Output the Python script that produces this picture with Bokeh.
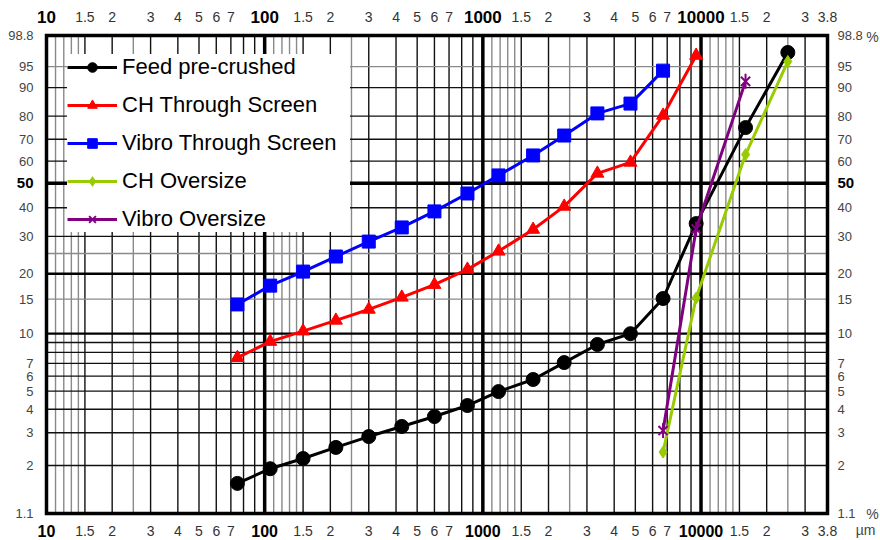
import numpy as np
from bokeh.plotting import figure
from bokeh.models import (Range1d, FixedTicker, LinearAxis, LogAxis, Legend, LegendItem,
                          CustomJSTickFormatter)
from bokeh.core.properties import value
from bokeh.embed import file_html
from bokeh.resources import INLINE

# ---------------- data (sieve size in µm, cumulative passing in %) ----------------
sizes_feed = [75, 106, 150, 212, 300, 425, 600, 850, 1180, 1700, 2360, 3350, 4750, 6700, 9500, 16000, 25000]
feed_pre_crushed = [1.60, 1.92, 2.18, 2.50, 2.86, 3.24, 3.66, 4.19, 4.97, 5.76, 7.07, 8.79, 10.0, 15.1, 34.2, 75.2, 97.2]

sizes_ch_through = [75, 106, 150, 212, 300, 425, 600, 850, 1180, 1700, 2360, 3350, 4750, 6700, 9500]
ch_through_screen = [7.5, 9.1, 10.3, 11.7, 13.3, 15.3, 17.7, 21.0, 25.6, 32.2, 40.5, 54.4, 59.4, 80.3, 96.8]

sizes_vibro_through = [75, 106, 150, 212, 300, 425, 600, 850, 1180, 1700, 2360, 3350, 4750, 6700]
vibro_through_screen = [14.1, 17.5, 20.5, 24.2, 28.4, 32.9, 38.6, 45.7, 53.5, 62.6, 71.7, 81.1, 84.8, 94.2]

sizes_ch_over = [6700, 9500, 16000, 25000]
ch_oversize = [2.36, 15.2, 63.0, 95.9]

sizes_vibro_over = [6700, 9500, 16000]
vibro_oversize = [3.08, 32.4, 91.7]

# axis ticks / labels
y_ticks = [1.1, 2, 3, 4, 5, 6, 7, 10, 15, 20, 30, 40, 60, 70, 80, 90, 95, 98.8]
y_bold_tick = 50
x_decades = [10, 100, 1000, 10000]
x_minor_mult = [1.5, 2, 3, 4, 5, 6, 7]
x_last_mult = [1.5, 2, 3, 3.8]
x_min, x_max = 10, 38000
y_min_pct, y_max_pct = 1.1, 98.8

# grid definition
grid_mult_dark = [1.5, 2, 3, 4, 5, 6, 7, 8, 9]
grid_mult_light = [1.1, 1.2, 1.3, 1.4, 2.5]
grid_y_dark = [2, 3, 4, 5, 6, 7, 8, 9, 30, 40, 60, 70, 80, 90]
grid_y_light = [15, 25, 95]
grid_y_medium = [10, 20]


def rr(pct):
    """RRSB (Rosin-Rammler) ordinate: log10(-ln(1-F))."""
    return np.log10(-np.log(1.0 - np.asarray(pct, dtype=float) / 100.0))


# canvas and chart-box geometry (pixels)
W, H = 880, 540
BL, BR, BT, BB = 46, 53, 35, 27
FW, FH = W - BL - BR, H - BT - BB

ybot, ytop = float(rr(y_min_pct)), float(rr(y_max_pct))
ppu_y = FH / (ytop - ybot)
ppu_x = FW / (np.log10(x_max) - np.log10(x_min))


def x_at_px(px):
    return float(10 ** (np.log10(x_min) + (px - BL) / ppu_x))


def y_at_px(py):
    return float(ytop - (py - BT) / ppu_y)


p = figure(width=W, height=H, x_axis_type="log", title=None,
           x_range=Range1d(x_at_px(0), x_at_px(W)), y_range=Range1d(y_at_px(H), y_at_px(0)),
           x_axis_location=None, y_axis_location=None,
           output_backend="svg", toolbar_location=None, min_border=0)
p.background_fill_color = "white"
p.border_fill_color = "white"
p.outline_line_color = None
for g in p.grid:
    g.visible = False

FONT = "Liberation Sans"

# ---------------- grid lines ----------------
last_dec = x_decades[-1]
vx_dark, vx_light = [], []
for d in x_decades:
    for m in grid_mult_dark:
        v = d * m
        if v < x_max:
            vx_dark.append(v)
    for m in grid_mult_light:
        v = d * m
        if v < x_max:
            vx_light.append(v)


def vlines(xs, color, width):
    n = len(xs)
    p.segment(x0=xs, y0=[ybot] * n, x1=xs, y1=[ytop] * n, line_color=color, line_width=width)


def hlines(pcts, color, width):
    ys = list(rr(pcts))
    n = len(ys)
    p.segment(x0=[x_min] * n, y0=ys, x1=[x_max] * n, y1=ys, line_color=color, line_width=width)


vlines(vx_light, "#8a8a8a", 1.4)
vlines(vx_dark, "#111111", 1.4)
hlines(grid_y_light, "#8a8a8a", 1.4)
hlines(grid_y_dark, "#111111", 1.4)
hlines(grid_y_medium, "#000000", 2.4)
hlines([y_bold_tick], "#000000", 3.5)
vlines(x_decades[1:], "#000000", 3.5)
p.quad(left=[x_min], right=[x_max], bottom=[ybot], top=[ytop], fill_color=None,
       line_color="black", line_width=3.5, line_join="miter")

# ---------------- series ----------------
LW = 3
l1 = p.line(sizes_feed, rr(feed_pre_crushed), line_color="black", line_width=LW)
s1 = p.scatter(sizes_feed, rr(feed_pre_crushed), marker="circle", size=14, color="black")

l2 = p.line(sizes_ch_through, rr(ch_through_screen), line_color="#FF0000", line_width=LW)
s2 = p.scatter(sizes_ch_through, rr(ch_through_screen), marker="triangle", size=13, color="#FF0000")

l3 = p.line(sizes_vibro_through, rr(vibro_through_screen), line_color="#0000FF", line_width=LW)
s3 = p.scatter(sizes_vibro_through, rr(vibro_through_screen), marker="square", size=13, color="#0000FF")

l4 = p.line(sizes_ch_over, rr(ch_oversize), line_color="#99CC00", line_width=LW)
s4 = p.scatter(sizes_ch_over, rr(ch_oversize), marker="diamond", size=12, color="#99CC00")

l5 = p.line(sizes_vibro_over, rr(vibro_oversize), line_color="#800080", line_width=LW)
s5a = p.scatter(sizes_vibro_over, rr(vibro_oversize), marker="x", size=13, line_color="#800080", line_width=2)
s5b = p.scatter(sizes_vibro_over, rr(vibro_oversize), marker="dash", angle=np.pi / 2, size=15,
                line_color="#800080", line_width=2)

legend = Legend(items=[
    LegendItem(label="Feed pre-crushed", renderers=[l1, s1]),
    LegendItem(label="CH Through Screen", renderers=[l2, s2]),
    LegendItem(label="Vibro Through Screen", renderers=[l3, s3]),
    LegendItem(label="CH Oversize", renderers=[l4, s4]),
    LegendItem(label="Vibro Oversize", renderers=[l5, s5a, s5b]),
], location=(67, 308))
legend.label_text_font = FONT
legend.label_text_font_size = "22px"
legend.label_text_color = "black"
legend.glyph_width = 50
legend.glyph_height = 24
legend.label_height = 24
legend.label_width = 228
legend.spacing = 12
legend.padding = 12
legend.margin = 0
legend.label_standoff = 5
legend.border_line_color = None
legend.background_fill_color = "white"
legend.background_fill_alpha = 1.0
p.add_layout(legend)

# ---------------- axes (fixed on the chart box edges) ----------------
dec_fmt = CustomJSTickFormatter(code="return Math.round(tick).toString();")
mant_fmt = CustomJSTickFormatter(code="""
const e = Math.floor(Math.log10(tick) + 1e-9);
const m = tick / Math.pow(10, e);
return (Math.round(m * 10) / 10).toString();
""")
pct_fmt = CustomJSTickFormatter(code="""
const v = 100 * (1 - Math.exp(-Math.pow(10, tick)));
return (Math.round(v * 10) / 10).toString();
""")

minor_x = []
for d in x_decades:
    for m in (x_last_mult if d == last_dec else x_minor_mult):
        minor_x.append(d * m)


def style_axis(ax, size, bold, color, standoff):
    ax.axis_line_color = None
    ax.major_tick_line_color = None
    ax.minor_tick_line_color = None
    ax.major_label_standoff = standoff
    ax.major_label_text_font = FONT
    ax.major_label_text_font_size = size
    ax.major_label_text_font_style = "bold" if bold else "normal"
    ax.major_label_text_color = color
    return ax


for loc, fixed, s_dec, s_min, f_dec in (("above", ytop, 7, 8, "17px"), ("below", ybot, 5, 6, "16px")):
    ax = LogAxis(ticker=FixedTicker(ticks=x_decades, minor_ticks=[]), formatter=dec_fmt, fixed_location=fixed)
    p.add_layout(style_axis(ax, f_dec, True, "black", s_dec), loc)
    ax2 = LogAxis(ticker=FixedTicker(ticks=minor_x, minor_ticks=[]), formatter=mant_fmt, fixed_location=fixed)
    p.add_layout(style_axis(ax2, "14px", False, "#333333", s_min), loc)

for loc, fixed, standoff in (("left", x_min, 7), ("right", x_max, 4)):
    ax = LinearAxis(ticker=FixedTicker(ticks=list(rr(y_ticks)), minor_ticks=[]), formatter=pct_fmt,
                    fixed_location=fixed)
    p.add_layout(style_axis(ax, "13px", False, "#444444", standoff), loc)
    ax50 = LinearAxis(ticker=FixedTicker(ticks=[float(rr(y_bold_tick))], minor_ticks=[]), formatter=pct_fmt,
                      fixed_location=fixed)
    p.add_layout(style_axis(ax50, "15px", True, "black", standoff), loc)

# unit labels
unit_text = ["%", "%", "µm"]
unit_x = [x_at_px(872), x_at_px(872), x_at_px(865)]
unit_y = [y_at_px(BT + 1), y_at_px(BT + FH), y_at_px(BT + FH + 16)]
p.text(x=unit_x, y=unit_y, text=unit_text, text_align="center", text_baseline="middle",
       text_font=value(FONT), text_font_size="14px", text_color="#444444")

open("out.html", "w").write(file_html(p, INLINE))
